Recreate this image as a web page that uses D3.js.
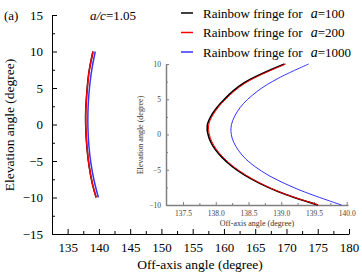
<!DOCTYPE html>
<html>
<head>
<meta charset="utf-8">
<script src="https://cdn.jsdelivr.net/npm/d3@7"></script>
<style>
body { margin: 0; background: #fff; }
svg { display: block; font-family: "Liberation Serif", "Times New Roman", serif; }
</style>
</head>
<body>
<div id="chart-area"></div>
<script>
// fringe curves (off-axis angle, elevation angle)
const fringe100 = [
	[139.05, 10], [138.43, 7.3], [138.12, 4.9], [137.94, 2.8], [137.87, 1.2],
	[137.92, -1.0], [138.10, -3.3], [138.43, -5.7], [138.95, -8.1], [139.56, -10]
];
const fringe200 = [
	[139.07, 10], [138.45, 7.3], [138.14, 4.9], [137.96, 2.8], [137.89, 1.2],
	[137.94, -1.0], [138.12, -3.3], [138.45, -5.7], [138.96, -8.1], [139.57, -10]
];
const fringe1000 = [
	[139.42, 10], [138.96, 8.0], [138.63, 6.1], [138.37, 3.8], [138.24, 1.4],
	[138.25, -0.5], [138.40, -2.9], [138.70, -5.2], [139.21, -7.6], [139.92, -10]
];
const legendA = ["100", "200", "1000"];
const colors = ["#000000", "#ff0000", "#3333ff"];

const mainXTicks = [135, 140, 145, 150, 155, 160, 165, 170, 175, 180];
const mainYTicks = [-15, -10, -5, 0, 5, 10, 15];
const insetXTicks = [137.5, 138.0, 138.5, 139.0, 139.5, 140.0];
const insetYTicks = [-10, -5, 0, 5, 10];

let W = 362, H = 276;
let svg = d3.select("#chart-area").append("svg")
			.attr("width", W).attr("height", H);

// ---- main plot
let x = d3.scaleLinear().domain([132.5, 180]).range([52, 349]);
let y = d3.scaleLinear().domain([-15, 15]).range([234, 15]);

let xAxis = svg.append("g")
			.attr("transform", "translate(0," + 234 + ")")
			.call(d3.axisBottom(x).tickValues(mainXTicks).tickSizeInner(-5).tickSizeOuter(0).tickPadding(8));
svg.append("g")
	.attr("transform", "translate(0," + 234 + ")")
	.call(d3.axisBottom(x).tickValues(d3.range(137.5, 180, 5)).tickSize(-3).tickFormat(""))
	.select(".domain").remove();

let yAxis = svg.append("g")
			.attr("transform", "translate(52,0)")
			.call(d3.axisLeft(y).tickValues(mainYTicks).tickSizeInner(-5).tickSizeOuter(0).tickPadding(9));
svg.append("g")
	.attr("transform", "translate(52,0)")
	.call(d3.axisLeft(y).tickValues(d3.range(-12.5, 15, 5)).tickSize(-3).tickFormat(""))
	.select(".domain").remove();

svg.selectAll(".tick text").attr("font-size", "13px").attr("font-family", "Liberation Serif");
xAxis.selectAll(".tick text").attr("dy", "0.8em");

svg.append("text")
	.attr("x", 200).attr("y", 269)
	.attr("text-anchor", "middle").attr("font-size", "13.5px")
	.text("Off-axis angle (degree)");
svg.append("text")
	.attr("transform", "translate(14,125) rotate(-90)")
	.attr("text-anchor", "middle").attr("font-size", "13.5px")
	.text("Elevation angle (degree)");
svg.append("text").attr("x", 4).attr("y", 20).attr("font-size", "13px").text("(a)");

let ac = svg.append("text").attr("x", 90).attr("y", 20).attr("font-size", "13px");
ac.append("tspan").attr("font-style", "italic").text("a/c");
ac.append("tspan").text("=1.05");

let line = d3.line().x(d => x(d[0])).y(d => y(d[1])).curve(d3.curveCatmullRom);
[fringe100, fringe200, fringe1000].forEach((s, i) => {
	svg.append("path").attr("d", line(s))
		.attr("fill", "none").attr("stroke", colors[i]).attr("stroke-width", 1.5);
});

// ---- inset
let xi = d3.scaleLinear().domain([137.24, 140.02]).range([166, 348]);
let yi = d3.scaleLinear().domain([-10, 10]).range([205, 64]);
let grey = "#808080";

let ixAxis = svg.append("g")
			.attr("transform", "translate(0,205)")
			.call(d3.axisBottom(xi).tickValues(insetXTicks).tickFormat(d3.format(".1f")).tickSizeInner(-3).tickSizeOuter(0).tickPadding(6));
let ixMinor = svg.append("g")
			.attr("transform", "translate(0,205)")
			.call(d3.axisBottom(xi).tickValues(d3.range(137.75, 140, 0.5)).tickSize(-2).tickFormat(""));
ixMinor.select(".domain").remove();
let iyAxis = svg.append("g")
			.attr("transform", "translate(166,0)")
			.call(d3.axisLeft(yi).tickValues(insetYTicks).tickSizeInner(-3).tickSizeOuter(0).tickPadding(5));
let iyMinor = svg.append("g")
			.attr("transform", "translate(166,0)")
			.call(d3.axisLeft(yi).tickValues([-7.5, -2.5, 2.5, 7.5]).tickSize(-2).tickFormat(""));
iyMinor.select(".domain").remove();

[ixAxis, ixMinor, iyAxis, iyMinor].forEach(g => {
	g.selectAll("path, line").attr("stroke", grey);
	g.select(".domain").attr("stroke-width", 1.5);
	g.selectAll(".tick text").attr("font-size", "7.5px").attr("font-family", "Liberation Serif").attr("fill", "#444");
});
ixAxis.selectAll(".tick text").attr("dy", "0.7em");

svg.append("text")
	.attr("x", 257).attr("y", 226)
	.attr("text-anchor", "middle").attr("font-size", "8px").attr("fill", "#333")
	.text("Off-axis angle (degree)");
svg.append("text")
	.attr("transform", "translate(143,135) rotate(-90)")
	.attr("text-anchor", "middle").attr("font-size", "8px").attr("fill", "#333")
	.text("Elevation angle (degree)");

let iline = d3.line().x(d => xi(d[0])).y(d => yi(d[1])).curve(d3.curveCatmullRom);
[fringe100, fringe200, fringe1000].forEach((s, i) => {
	svg.append("path").attr("d", iline(s))
		.attr("fill", "none").attr("stroke", colors[i]).attr("stroke-width", i == 0 ? 1.6 : 1);
});

// ---- legend
legendA.forEach((a, i) => {
	let ly = 13 + i * 19.5;
	svg.append("line").attr("x1", 181).attr("x2", 193).attr("y1", ly).attr("y2", ly)
		.attr("stroke", colors[i]).attr("stroke-width", 1.5);
	let t = svg.append("text").attr("x", 203).attr("y", ly + 4.5).attr("font-size", "13px");
	t.append("tspan").text("Rainbow fringe for");
	t.append("tspan").attr("dx", 8).attr("font-style", "italic").attr("font-size", "14px").text("a");
	t.append("tspan").text("=" + a);
});
</script>
</body>
</html>
